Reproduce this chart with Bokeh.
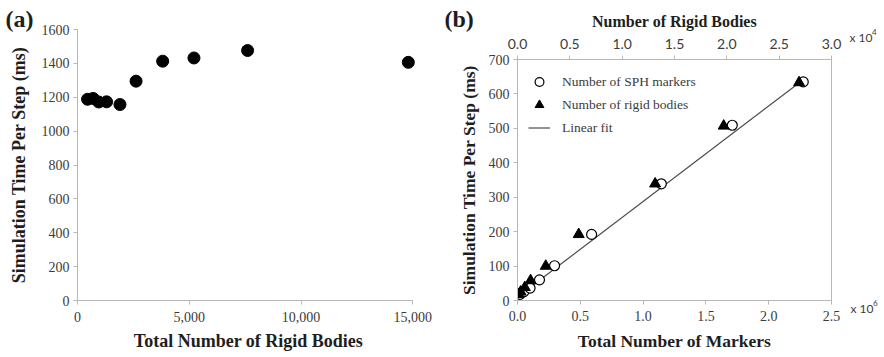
from bokeh.plotting import figure
from bokeh.models import (Range1d, LinearAxis, FixedTicker, NumeralTickFormatter,
                          Legend, LegendItem, ColumnDataSource)
from bokeh.embed import file_html
from bokeh.resources import INLINE

# ---------------- Panel (a) data ----------------
rigid_bodies_a = [450, 700, 950, 1300, 1900, 2620, 3810, 5210, 7610, 14800]
time_a = [1188, 1193, 1172, 1173, 1157, 1295, 1413, 1432, 1476, 1406]
a_x_ticks = [0, 5000, 10000, 15000]
a_y_ticks = [0, 200, 400, 600, 800, 1000, 1200, 1400, 1600]

# ---------------- Panel (b) data ----------------
markers_1e6 = [0.02, 0.05, 0.10, 0.175, 0.295, 0.59, 1.145, 1.71, 2.275]
sph_time = [18, 25, 36, 60, 101, 192, 339, 509, 635]
rigid_1e4 = [0.01, 0.03, 0.07, 0.125, 0.27, 0.585, 1.315, 1.97, 2.69]
rigid_time = [18, 25, 38, 58, 100, 192, 339, 507, 633]
fit_x = [0.0, 2.27]
fit_y = [10, 640]
b_x_ticks = [0.0, 0.5, 1.0, 1.5, 2.0, 2.5]
b_top_ticks = [0.0, 0.5, 1.0, 1.5, 2.0, 2.5, 3.0]
b_y_ticks = [0, 100, 200, 300, 400, 500, 600, 700]

# panel tags and axis multipliers (text outside the plot frames)
note_text = ["(a)", "(b)", "x 10", "4", "x 10", "6"]

SERIF = "Liberation Serif"
SANS = "Lato"
AXIS_COL = "#b8b8b8"
TICK_COL = "#3c3c3c"
TITLE_COL = "#1e1e1e"


def style_axis(ax, font=SERIF, standoff=4, label_standoff=4, title_size="17.5px"):
    ax.axis_line_color = AXIS_COL
    ax.major_tick_line_color = AXIS_COL
    ax.major_tick_in = 0
    ax.major_tick_out = 4
    ax.minor_tick_line_color = None
    ax.major_label_text_font = font
    ax.major_label_text_font_size = "14px"
    ax.major_label_text_color = TICK_COL
    ax.major_label_standoff = standoff
    ax.axis_label_text_font = SERIF
    ax.axis_label_text_font_style = "bold"
    ax.axis_label_text_font_size = title_size
    ax.axis_label_text_color = TITLE_COL
    ax.axis_label_standoff = label_standoff


# ---------------- Figure (a) ----------------
pa = figure(frame_width=342, frame_height=271, output_backend="svg",
            toolbar_location=None,
            x_range=Range1d(0, 15300), y_range=Range1d(0, 1600),
            min_border_left=74, min_border_right=15, min_border_top=21,
            min_border_bottom=30,
            styles={"position": "absolute", "left": "3px", "top": "8px"})
pa.grid.visible = False
pa.outline_line_color = None
pa.scatter(rigid_bodies_a, time_a, marker="circle", size=12,
           fill_color="black", line_color="black")
pa.xaxis.ticker = FixedTicker(ticks=a_x_ticks)
pa.xaxis.formatter = NumeralTickFormatter(format="0,0")
pa.xaxis.bounds = (0, 15000)
pa.yaxis.ticker = FixedTicker(ticks=a_y_ticks)
pa.xaxis.axis_label = "Total Number of Rigid Bodies"
pa.yaxis.axis_label = "Simulation Time Per Step (ms)"
style_axis(pa.xaxis[0], standoff=7, label_standoff=6, title_size="18px")
style_axis(pa.yaxis[0], standoff=4, label_standoff=10, title_size="18px")

# ---------------- Figure (b) ----------------
pb = figure(frame_width=314, frame_height=241, output_backend="svg",
            toolbar_location=None,
            x_range=Range1d(0, 2.5), y_range=Range1d(0, 700),
            min_border_left=77, min_border_right=45, min_border_top=51,
            min_border_bottom=30,
            styles={"position": "absolute", "left": "440px", "top": "8px"})
pb.extra_x_ranges = {"rigid": Range1d(0, 3.0)}
pb.grid.visible = False
pb.outline_line_color = AXIS_COL

fit_r = pb.line(fit_x, fit_y, line_color="#4a4a4a", line_width=1.2)
sph_r = pb.scatter(markers_1e6, sph_time, marker="circle", size=10,
                   fill_color="white", line_color="black", line_width=1.2)
rig_r = pb.scatter(rigid_1e4, rigid_time, marker="triangle", size=11,
                   fill_color="black", line_color="black",
                   x_range_name="rigid")

pb.xaxis.ticker = FixedTicker(ticks=b_x_ticks)
pb.xaxis.formatter = NumeralTickFormatter(format="0.0")
pb.yaxis.ticker = FixedTicker(ticks=b_y_ticks)
pb.xaxis.axis_label = "Total Number of Markers"
pb.yaxis.axis_label = "Simulation Time Per Step (ms)"
style_axis(pb.xaxis[0], standoff=6, label_standoff=7)
style_axis(pb.yaxis[0], standoff=4, label_standoff=7)

top_axis = LinearAxis(x_range_name="rigid", ticker=FixedTicker(ticks=b_top_ticks),
                      formatter=NumeralTickFormatter(format="0.0"),
                      axis_label="Number of Rigid Bodies")
style_axis(top_axis, font=SANS, standoff=7, label_standoff=6, title_size="16px")
pb.add_layout(top_axis, "above")

legend = Legend(items=[
    LegendItem(label="Number of SPH markers", renderers=[sph_r]),
    LegendItem(label="Number of rigid bodies", renderers=[rig_r]),
    LegendItem(label="Linear fit", renderers=[fit_r]),
], location="top_left", margin=11, padding=0, spacing=0,
    glyph_width=22, glyph_height=23, label_height=23, label_standoff=12,
    label_text_font=SERIF, label_text_font_size="13.5px",
    label_text_color=TICK_COL, border_line_color=None,
    background_fill_alpha=0)
pb.add_layout(legend)

# ---------------- transparent overlay for texts outside the frames ----------------
ov = figure(width=882, height=357, output_backend="svg", toolbar_location=None,
            x_range=Range1d(0, 882), y_range=Range1d(357, 0),
            min_border=0, x_axis_location=None, y_axis_location=None,
            background_fill_color=None, border_fill_color=None,
            outline_line_color=None,
            styles={"position": "absolute", "left": "0px", "top": "0px",
                    "pointer-events": "none"})
ov.grid.visible = False
notes = ColumnDataSource(dict(
    x=[5, 444, 849, 871.5, 850, 872.5],
    y=[18, 18, 37, 31.5, 308, 302.5],
    text=note_text,
    font=[SERIF, SERIF, SANS, SANS, SANS, SANS],
    size=["24px", "24px", "12px", "8px", "12px", "8px"],
    style=["bold", "bold", "normal", "normal", "normal", "normal"],
    color=[TITLE_COL, TITLE_COL, TICK_COL, TICK_COL, TICK_COL, TICK_COL],
))
ov.text(x="x", y="y", text="text", source=notes, text_font="font",
        text_font_size="size", text_font_style="style", text_color="color",
        text_align="left", text_baseline="middle")

open("out.html", "w").write(file_html([pa, pb, ov], INLINE))
